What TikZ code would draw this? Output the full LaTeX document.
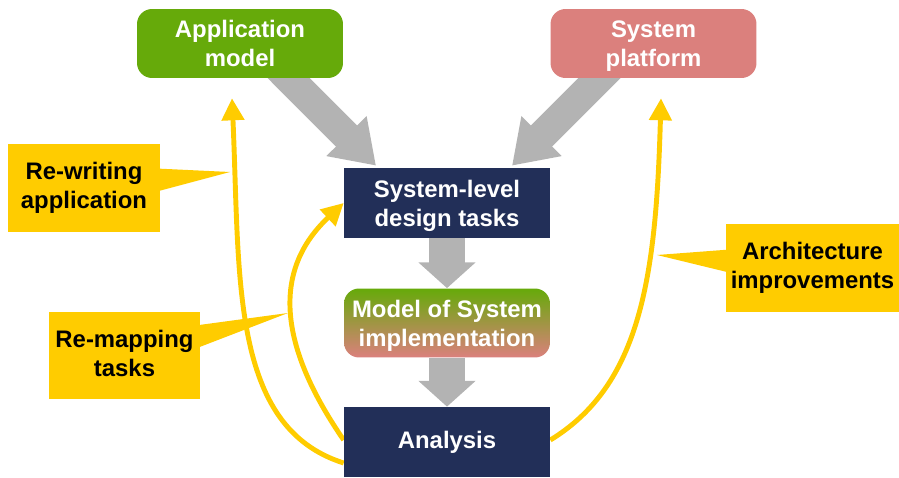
\documentclass[tikz,border=0pt]{standalone}
\usepackage{fontspec}
\setmainfont{Liberation Sans}
\usetikzlibrary{arrows.meta,shapes.callouts,backgrounds}

\definecolor{appgreen}{HTML}{66AA0A}
\definecolor{platpink}{HTML}{DB807D}
\definecolor{tasknavy}{HTML}{222F58}
\definecolor{flowgray}{HTML}{B3B3B3}
\definecolor{noteyellow}{HTML}{FFCC00}

\tikzset{
  boxfont/.style={font=\fontsize{13.6}{16.4}\selectfont\bfseries},
  modelbox/.style={boxfont, rounded corners=0.3cm, minimum width=4.12cm, minimum height=1.38cm, align=center, text=white, inner sep=0pt},
  taskbox/.style={boxfont, fill=tasknavy, minimum width=4.12cm, minimum height=1.4cm, align=center, text=white, inner sep=0pt},
  notebox/.style={boxfont, rectangle callout, fill=noteyellow, align=center, inner sep=0pt, callout pointer width=0.44cm},
  flowarrow/.style={flowgray, line width=20.4pt, -{Triangle[width=31.8pt,length=14.7pt]}},
  diagarrow/.style={flowgray, line width=17pt, -{Triangle[width=30.6pt,length=23.8pt]}},
  feedarrow/.style={noteyellow, line width=2.8pt, -{Triangle[width=12.5pt,length=12.5pt]}},
}

\begin{document}
\begin{tikzpicture}[x=0.02cm, y=0.02cm]
        \useasboundingbox (0,0) rectangle (899,477);

        \node (app) at (240,433.5)[modelbox, fill=appgreen]{Application\\model};
        \node (plat) at (653.5,433.5)[modelbox, fill=platpink]{System\\\smash{platform}};
        \node (sld) at (447,274)[taskbox]{System-level\\\smash{design tasks}};
        \node (moi) at (447,154)[modelbox, top color=appgreen, bottom color=platpink]{Model of System\\\smash{implementation}};
        \node (ana) at (447,35)[taskbox]{Analysis};

        \node (rewrite) at (84,289)[notebox, minimum width=3.04cm, minimum height=1.76cm, callout absolute pointer={(230,305)}]{Re-writing\\application};
        \node (remap) at (124.5,121.5)[notebox, minimum width=3.02cm, minimum height=1.74cm, callout absolute pointer={(288,164)}]{Re-mapping\\tasks\vphantom{p}};
        \node (archimp) at (812.5,209)[notebox, minimum width=3.46cm, minimum height=1.76cm, callout absolute pointer={(657,222)}]{Architecture\\improvements};

        \begin{scope}[on background layer]
        \draw[diagarrow] ([xshift=0.6cm,yshift=0.38cm]app.south) -- ([xshift=-1.42cm,yshift=0.04cm]sld.north);
        \draw[diagarrow] ([xshift=-0.73cm,yshift=0.36cm]plat.south) -- ([xshift=1.3cm,yshift=0.04cm]sld.north);
        \draw[flowarrow] (sld.south) -- (moi.north);
        \draw[flowarrow] (moi.south) -- (ana.north);

        \draw[feedarrow] ([yshift=-0.42cm]ana.west) .. controls +(-114,36) and +(8,-179) .. ([xshift=-0.16cm,yshift=-0.4cm]app.south);
        \draw[feedarrow] ([yshift=0.04cm]ana.west) .. controls +(-55,80) and +(-80,-75) .. (sld.west);
        \draw[feedarrow] ([yshift=0.04cm]ana.east) .. controls +(90,55) and +(-5,-180) .. ([xshift=0.15cm,yshift=-0.4cm]plat.south);
        \end{scope}
   \end{tikzpicture}
\end{document}
